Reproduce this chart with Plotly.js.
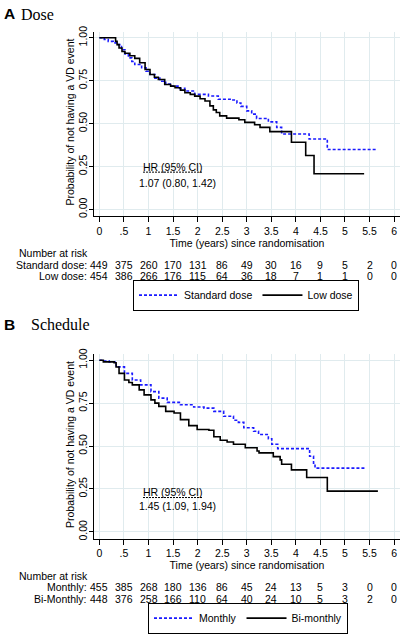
<!DOCTYPE html>
<html><head><meta charset="utf-8">
<script src="https://cdn.plot.ly/plotly-3.0.1.min.js"></script>
<style>html,body{margin:0;padding:0;background:#fff;}#chart{width:403px;height:634px;}</style>
</head><body><div id="chart"></div>
<script>
// ---------- data ----------
const doseStdT = [0,0.10,0.18,0.28,0.35,0.45,0.52,0.59,0.66,0.72,0.86,0.95,1.03,1.13,1.23,1.35,1.47,1.60,1.74,1.94,2.22,2.42,2.69,2.80,2.88,3.00,3.10,3.20,3.44,3.61,3.71,4.27,4.64,5.63];
const doseStdS = [1.0,0.99,0.979,0.97,0.96,0.93,0.905,0.883,0.862,0.844,0.825,0.805,0.786,0.765,0.747,0.73,0.718,0.705,0.69,0.67,0.661,0.642,0.637,0.62,0.60,0.574,0.555,0.53,0.51,0.478,0.439,0.41,0.349,0.349];
const doseLowT = [0,0.33,0.36,0.40,0.46,0.52,0.62,0.72,0.82,0.93,1.03,1.12,1.20,1.33,1.45,1.54,1.65,1.74,1.85,1.94,2.05,2.15,2.25,2.32,2.38,2.45,2.59,2.84,2.96,3.16,3.27,3.47,3.91,4.20,4.37,5.39];
const doseLowS = [1.0,0.98,0.96,0.94,0.92,0.91,0.895,0.88,0.854,0.815,0.786,0.77,0.757,0.728,0.718,0.709,0.695,0.68,0.67,0.66,0.645,0.632,0.603,0.58,0.565,0.545,0.532,0.522,0.507,0.493,0.478,0.453,0.391,0.314,0.208,0.208];
const schMonT = [0,0.10,0.20,0.34,0.51,0.67,0.84,1.05,1.21,1.38,1.65,1.92,2.13,2.33,2.53,2.73,2.83,2.94,3.14,3.24,3.44,3.51,3.63,4.28,4.36,4.39,5.40];
const schMonS = [1.0,0.995,0.99,0.961,0.923,0.885,0.856,0.817,0.779,0.754,0.740,0.727,0.721,0.702,0.673,0.65,0.638,0.606,0.586,0.567,0.542,0.51,0.485,0.44,0.40,0.371,0.371];
const schBiT = [0,0.08,0.30,0.34,0.40,0.51,0.60,0.67,0.81,0.91,1.05,1.13,1.21,1.35,1.52,1.65,1.82,1.99,2.23,2.33,2.46,2.60,2.73,2.97,3.21,3.25,3.54,3.68,3.71,3.91,4.22,4.64,5.67];
const schBiS = [1.0,0.99,0.985,0.96,0.923,0.885,0.87,0.856,0.827,0.798,0.769,0.75,0.731,0.702,0.692,0.654,0.619,0.596,0.592,0.554,0.534,0.523,0.51,0.49,0.471,0.46,0.438,0.419,0.394,0.361,0.317,0.237,0.237];

const riskTimes = [0,0.5,1,1.5,2,2.5,3,3.5,4,4.5,5,5.5,6];
const xTickLabels = ["0",".5","1","1.5","2","2.5","3","3.5","4","4.5","5","5.5","6"];
const yTickVals = [0,0.25,0.5,0.75,1];
const yTickLabels = ["0.00","0.25","0.50","0.75","1.00"];
const riskStd = [449,375,260,170,131,86,49,30,16,9,5,2,0];
const riskLow = [454,386,266,176,115,64,36,18,7,1,1,0,0];
const riskMon = [455,385,268,180,136,86,45,24,13,5,3,0,0];
const riskBi  = [448,376,258,166,110,64,40,24,10,5,3,2,0];
const seriesNames = ["Standard dose","Low dose","Monthly","Bi-monthly"];
const riskRowLabels = ["Standard dose:","Low dose:","Monthly:","Bi-Monthly:"];
const xTitle = "Time (years) since randomisation";
const yTitle = "Probability of not having a VD event";
const hrLabel = "HR (95% CI)";
const hrValues = ["1.07 (0.80, 1.42)","1.45 (1.09, 1.94)"];
const panelLetters = ["A","B"];
const panelTitles = ["Dose","Schedule"];

// ---------- layout helpers ----------
const W = 403, H = 634;
const px = X => X / W;
const py = Y => 1 - Y / H;
const SANS = "Arial, 'Liberation Sans', sans-serif";
const SERIF = "'Times New Roman', 'Liberation Serif', serif";
const FS = 10.5;
const BLUE = "#1a1aff";

function xaxis(anchor) {
  return {
    anchor: anchor, domain: [px(94), px(400)], range: [-0.11, 6.12],
    tickvals: riskTimes, ticktext: xTickLabels, ticks: "outside", ticklen: 5, tickcolor: "#000",
    showline: true, linecolor: "#000", linewidth: 1, mirror: false,
    showgrid: true, gridcolor: "#e0ebee", gridwidth: 1, zeroline: false,
    tickfont: {family: SANS, size: FS, color: "#000"},
    title: {text: xTitle, font: {family: SANS, size: FS, color: "#000"}, standoff: 2}
  };
}
function yaxis(anchor, top, bottom) {
  return {
    anchor: anchor, domain: [py(bottom), py(top)], range: [-0.04, 1.035],
    tickvals: yTickVals, ticktext: yTickLabels, tickangle: -90, ticks: "outside", ticklen: 4, tickcolor: "#000",
    ticklabelstandoff: -2,
    showline: true, linecolor: "#000", linewidth: 1,
    showgrid: true, gridcolor: "#e0ebee", gridwidth: 1, zeroline: false,
    tickfont: {family: SANS, size: FS, color: "#000"}
  };
}

const traces = [
  {x: doseStdT, y: doseStdS, name: seriesNames[0], mode: "lines", line: {shape: "hv", color: BLUE, width: 1.6, dash: "3px,2px"}, xaxis: "x", yaxis: "y", legend: "legend"},
  {x: doseLowT, y: doseLowS, name: seriesNames[1], mode: "lines", line: {shape: "hv", color: "#000", width: 1.6}, xaxis: "x", yaxis: "y", legend: "legend"},
  {x: schMonT, y: schMonS, name: seriesNames[2], mode: "lines", line: {shape: "hv", color: BLUE, width: 1.6, dash: "3px,2px"}, xaxis: "x2", yaxis: "y2", legend: "legend2"},
  {x: schBiT, y: schBiS, name: seriesNames[3], mode: "lines", line: {shape: "hv", color: "#000", width: 1.6}, xaxis: "x2", yaxis: "y2", legend: "legend2"}
];

const annotations = [];
function txt(text, x, y, xref, xanchor, font, angle) {
  annotations.push({text: text, x: x, y: y, xref: xref, yref: "paper", xanchor: xanchor, yanchor: "middle", showarrow: false, font: font, borderpad: 0, textangle: angle || 0});
}
const f = {family: SANS, size: FS, color: "#000"};
// y-axis titles
txt(yTitle, px(70.5), py(123), "paper", "center", f, -90);
txt(yTitle, px(70.5), py(448), "paper", "center", f, -90);
// panel headings
txt("<b>" + panelLetters[0] + "</b>", px(3), py(14), "paper", "left", {family: SANS, size: 15.5, color: "#000"});
txt(panelTitles[0], px(20), py(14.5), "paper", "left", {family: SERIF, size: 16, color: "#000"});
txt("<b>" + panelLetters[1] + "</b>", px(3), py(327), "paper", "left", {family: SANS, size: 15.5, color: "#000"});
txt(panelTitles[1], px(29.5), py(327.5), "paper", "left", {family: SERIF, size: 16, color: "#000"});
// HR text
txt(hrLabel, px(172.5), py(168), "paper", "center", f);
txt(hrValues[0], px(177), py(184), "paper", "center", f);
txt(hrLabel, px(173), py(496), "paper", "center", f);
txt(hrValues[1], px(177), py(510), "paper", "center", f);
// risk tables
txt("Number at risk", px(18), py(255), "paper", "left", f);
txt(riskRowLabels[0], px(88), py(266.7), "paper", "right", f);
txt(riskRowLabels[1], px(88), py(278.4), "paper", "right", f);
txt("Number at risk", px(18), py(580.3), "paper", "left", f);
txt(riskRowLabels[2], px(88), py(592.1), "paper", "right", f);
txt(riskRowLabels[3], px(88), py(603.8), "paper", "right", f);
riskTimes.forEach((t, i) => {
  txt(String(riskStd[i]), t, py(266.7), "x", "center", f);
  txt(String(riskLow[i]), t, py(278.4), "x", "center", f);
  txt(String(riskMon[i]), t, py(592.1), "x2", "center", f);
  txt(String(riskBi[i]), t, py(603.8), "x2", "center", f);
});

const shapes = [
  {type: "line", xref: "paper", yref: "paper", x0: px(143), x1: px(203), y0: py(173.5), y1: py(173.5), line: {color: "#000", width: 1, dash: "2px,1px"}},
  {type: "line", xref: "paper", yref: "paper", x0: px(143), x1: px(203), y0: py(501.5), y1: py(501.5), line: {color: "#000", width: 1, dash: "2px,1px"}}
];

const legendBase = {
  orientation: "h", xref: "paper", yref: "paper", xanchor: "center", yanchor: "middle",
  bgcolor: "#fff", bordercolor: "#000", borderwidth: 1,
  font: {family: SANS, size: FS, color: "#000"}, itemwidth: 40, tracegroupgap: 0
};

const layout = {
  width: W, height: H, margin: {l: 0, r: 0, t: 0, b: 0},
  paper_bgcolor: "#fff", plot_bgcolor: "#fff",
  showlegend: true,
  xaxis: xaxis("y"), yaxis: yaxis("x", 32, 218),
  xaxis2: xaxis("y2"), yaxis2: yaxis("x2", 357, 543),
  legend: Object.assign({}, legendBase, {x: px(246), y: py(297.5)}),
  legend2: Object.assign({}, legendBase, {x: px(248), y: py(623)}),
  annotations: annotations, shapes: shapes
};

Plotly.newPlot("chart", traces, layout, {displayModeBar: false, staticPlot: true});
</script>
</body></html>
